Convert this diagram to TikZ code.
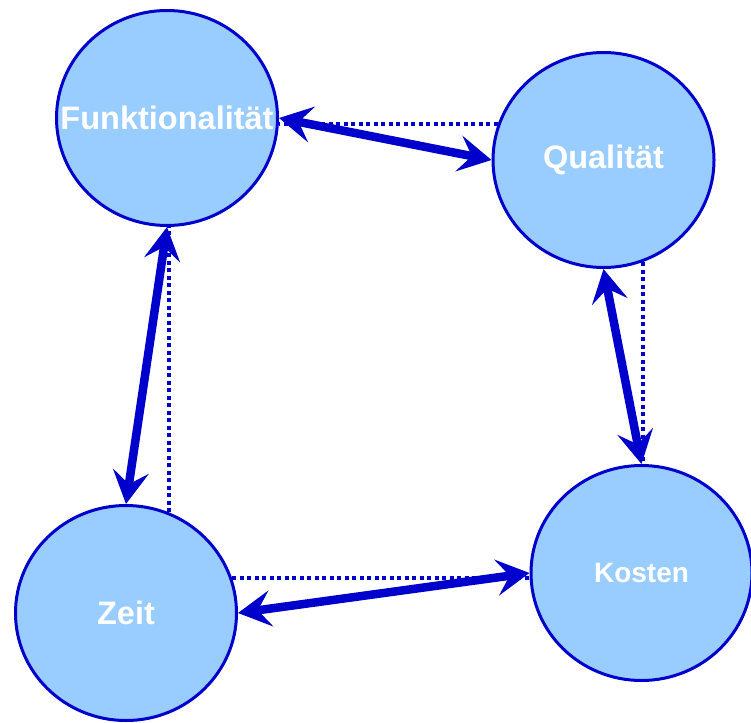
\documentclass[tikz,border=0pt]{standalone}
\usepackage{fontspec}
\setmainfont{Liberation Sans}
\usetikzlibrary{arrows.meta,shapes.geometric}
\definecolor{linkblue}{RGB}{0,0,204}
\definecolor{goalblue}{RGB}{153,204,255}
\tikzset{goal/.style={ellipse, draw=linkblue, fill=goalblue, line width=3pt,
             minimum width=221pt, minimum height=215pt, inner sep=0pt},
         goaltext/.style={text=white, font=\bfseries\fontsize{#1}{#1}\selectfont},
         tradeoff/.style={draw=linkblue, line width=8.5pt,
             {Stealth[length=33pt,width=36pt,inset=13pt]}-{Stealth[length=33pt,width=36pt,inset=13pt]}},
         link/.style={draw=linkblue, line width=4pt, dash pattern=on 4pt off 3.5pt}}

\begin{document}
\begin{tikzpicture}[x=1pt, y=-1pt]
  \useasboundingbox (0,0) rectangle (751,722);
  % the four goals
  \node[goal, label={[goaltext=32.5]center:Funktionalität}] (fkt)  at (167,118)   {};
  \node[goal, label={[goaltext=32.5]center:Qualität}]       (qual) at (603.5,160) {};
  \node[goal, label={[goaltext=28]center:Kosten}]           (kost) at (641.5,573) {};
  \node[goal, label={[goaltext=32.5]center:Zeit}]           (zeit) at (126,613)   {};
  % dotted links
  \draw[link] (qual.161) -- (qual.161 -| fkt.east);
  \draw[link] (qual.-69) -- (qual.-69 |- kost.north);
  \draw[link] (zeit.67)  -- (zeit.67 |- fkt.south);
  \draw[link] (zeit.18)  -- (zeit.18 -| kost.west);
  % trade-offs
  \draw[tradeoff] (fkt.east)   -- (qual.west);
  \draw[tradeoff] (qual.south) -- (kost.north);
  \draw[tradeoff] (fkt.south)  -- (zeit.north);
  \draw[tradeoff] (zeit.east)  -- (kost.west);
\end{tikzpicture}
\end{document}
